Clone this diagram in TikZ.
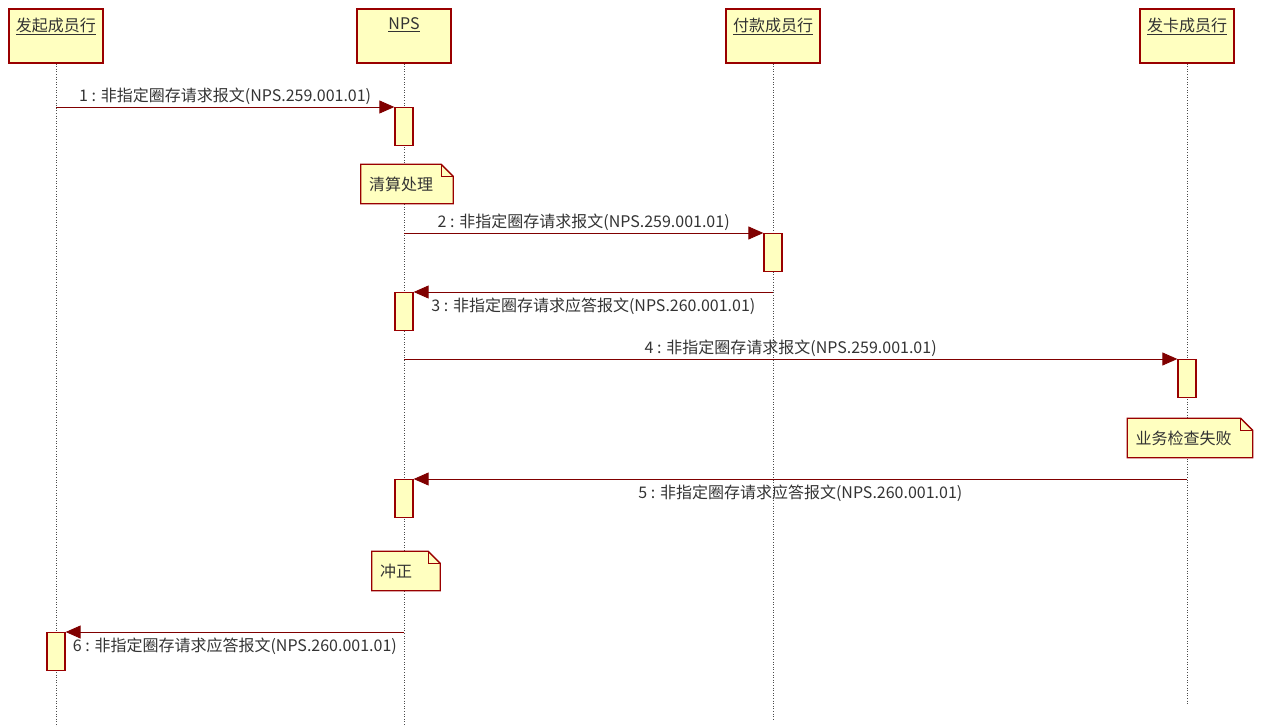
\documentclass[tikz,border=0pt]{standalone}
\usepackage{fontspec}
\setmainfont{Noto Sans CJK SC}
\usetikzlibrary{arrows.meta,positioning,calc}
\pgfdeclarelayer{bg}
\pgfsetlayers{bg,main}
\definecolor{boxfill}{RGB}{255,255,192}
\definecolor{boxline}{RGB}{153,0,0}
\definecolor{msgline}{RGB}{128,0,0}

\begin{document}
\begin{tikzpicture}[
x=1pt,y=-1pt,
every node/.style={
font=\fontsize{16}{19}\selectfont,
text=black!80
},
actor/.style={draw=boxline,fill=boxfill,line width=1.3pt,minimum width=94pt,minimum height=54pt,inner sep=0pt},
act/.style={draw=boxline,fill=boxfill,line width=1.3pt,minimum width=18pt,minimum height=38pt,inner sep=0pt,anchor=north},
note/.style={text width=#1,align=left,inner xsep=8pt,minimum height=39pt,anchor=north},
notebox/.style={draw=boxline,fill=boxfill,line width=1.3pt},
lifeline/.style={dotted,black!70,line width=0.6pt},
msg/.style={-{Triangle[length=15pt,width=13pt]},msgline,line width=0.9pt},
lbl/.style={inner sep=2pt}
]
\useasboundingbox (0,0) rectangle (1263,727);
\foreach \n/\x/\t/\e in {org/56/发起成员行/664, nps/404/NPS/664, pay/773/付款成员行/657, iss/1187/发卡成员行/640}{
\node[actor,label={[anchor=north,yshift=-6pt]north:\underline{\t}}] (\n) at (\x,36) {};
\begin{pgfonlayer}{bg}
\draw[lifeline] (\n.south) -- ++(0,\e);
\end{pgfonlayer}
}
\node[act] (a1) at (nps |- 0,107) {};
\node[act] (a2) at (pay |- 0,233) {};
\node[act] (a3) at (nps |- 0,292) {};
\node[act] (a4) at (iss |- 0,359) {};
\node[act] (a5) at (nps |- 0,479) {};
\node[act] (a6) at (org |- 0,632) {};
\node[note=76pt] (n1) [below=18pt of a1,xshift=3pt] {清算处理};
\node[note=109pt] (n2) [below=20pt of a4,xshift=3pt] {业务检查失败};
\node[note=52pt] (n3) [below=33pt of a5,xshift=2pt] {冲正};
\draw[msg] (org |- a1.north) -- node[lbl,above] {1 : 非指定圈存请求报文(NPS.259.001.01)} (a1.north west);
\draw[msg] (nps |- a2.north) -- node[lbl,above] {2 : 非指定圈存请求报文(NPS.259.001.01)} (a2.north west);
\draw[msg] (pay |- a3.north) -- node[lbl,below=3pt] {3 : 非指定圈存请求应答报文(NPS.260.001.01)} (a3.north east);
\draw[msg] (nps |- a4.north) -- node[lbl,above] {4 : 非指定圈存请求报文(NPS.259.001.01)} (a4.north west);
\draw[msg] (iss |- a5.north) -- node[lbl,below=3pt] {5 : 非指定圈存请求应答报文(NPS.260.001.01)} (a5.north east);
\draw[msg] (nps |- a6.north) -- node[lbl,below=3pt] {6 : 非指定圈存请求应答报文(NPS.260.001.01)} (a6.north east);
\begin{pgfonlayer}{bg}
\foreach \n in {n1,n2,n3}{
\filldraw[notebox] (\n.north west) -- ([xshift=-12pt]\n.north east) -- ([yshift=-12pt]\n.north east) -- (\n.south east) -- (\n.south west) -- cycle;
\draw[notebox,fill=none] ([xshift=-12pt]\n.north east) |- ([yshift=-12pt]\n.north east);
}
\end{pgfonlayer}
\end{tikzpicture}
\end{document}
